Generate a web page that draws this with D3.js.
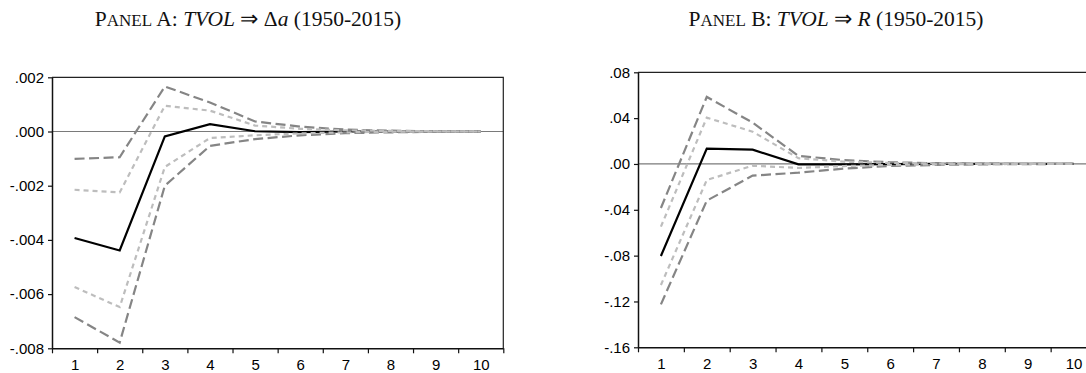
<!DOCTYPE html>
<html>
<head>
<meta charset="utf-8">
<script src="https://cdn.jsdelivr.net/npm/d3@7"></script>
<style>
  html, body { margin: 0; padding: 0; background: #fff; }
  svg { display: block; }
  .title { font-family: "Liberation Serif", "Times New Roman", serif; fill: #111; }
</style>
</head>
<body>
<svg id="chart" width="1086" height="373"></svg>
<script>
// Impulse horizons
const horizons = [1, 2, 3, 4, 5, 6, 7, 8, 9, 10];

// Panel A: response of Δa to a TVOL shock
const aPoint      = [-0.00393, -0.00439, -0.00018, 0.00027, 0.00001, -0.00002, 0, 0, 0, 0];
const aUpperOuter = [-0.00101, -0.00095, 0.00166, 0.00107, 0.00037, 0.00018, 0.00007, 0.00003, 0.00001, 0];
const aLowerOuter = [-0.00685, -0.00779, -0.00200, -0.00053, -0.00028, -0.00014, -0.00006, -0.00003, -0.00001, 0];
const aUpperInner = [-0.00215, -0.00225, 0.00095, 0.00077, 0.00022, 0.00010, 0.00004, 0.00002, 0.00001, 0];
const aLowerInner = [-0.00574, -0.00648, -0.00131, -0.00024, -0.00014, -0.00007, -0.00003, -0.00001, 0, 0];
const aYTicks = [-0.008, -0.006, -0.004, -0.002, 0, 0.002];

// Panel B: response of R to a TVOL shock
const bPoint      = [-0.0803, 0.0134, 0.0125, -0.0003, -0.0004, -0.0002, 0, 0, 0, 0];
const bUpperOuter = [-0.0384, 0.0585, 0.0361, 0.0070, 0.0033, 0.0015, 0.0007, 0.0003, 0.0001, 0];
const bLowerOuter = [-0.1225, -0.0320, -0.0102, -0.0076, -0.0040, -0.0018, -0.0008, -0.0003, -0.0001, 0];
const bUpperInner = [-0.0547, 0.0404, 0.0282, 0.0050, 0.0020, 0.0009, 0.0004, 0.0002, 0.0001, 0];
const bLowerInner = [-0.1056, -0.0140, -0.0015, -0.0035, -0.0018, -0.0008, -0.0003, -0.0001, 0, 0];
const bYTicks = [-0.16, -0.12, -0.08, -0.04, 0, 0.04, 0.08];

const svg = d3.select("#chart");
const TICK_FONT = "\"Liberation Sans\", Arial, sans-serif";
const TICK_SIZE = 15;

function stripZero(fmt) {
  const f = d3.format(fmt);
  return v => f(Math.abs(v) < 1e-12 ? 0 : v).replace("0.", ".").replace("−", "-");
}

function styleTickText(sel) {
  sel.attr("font-family", TICK_FONT).attr("font-size", TICK_SIZE);
  sel.selectAll("text").attr("fill", "#000");
}

function drawPanel(cfg) {
  const { left, right, top, bottom } = cfg.box;
  const x = d3.scaleLinear().domain([0.5, 10.5]).range([left, right]);
  const y = d3.scaleLinear().domain(cfg.yDomain).range([bottom, top]);
  const g = svg.append("g");

  // zero reference line
  g.append("line")
    .attr("x1", left).attr("x2", Math.min(right, 1086))
    .attr("y1", y(0)).attr("y2", y(0))
    .attr("stroke", "#7a7a7a").attr("stroke-width", 1.2);

  const line = d3.line().x((d, i) => x(horizons[i])).y(d => y(d));

  const series = [
    { v: cfg.point, color: "#000", dash: null, w: 2.2 },
    { v: cfg.upperOuter, color: "#858585", dash: "10,4.5", w: 2.2 },
    { v: cfg.lowerOuter, color: "#858585", dash: "10,4.5", w: 2.2 },
    { v: cfg.upperInner, color: "#bdbdbd", dash: "5,4", w: 2.2 },
    { v: cfg.lowerInner, color: "#bdbdbd", dash: "5,4", w: 2.2 }
  ];
  series.forEach(s => {
    g.append("path")
      .attr("d", line(s.v))
      .attr("fill", "none")
      .attr("stroke", s.color)
      .attr("stroke-width", s.w)
      .attr("stroke-dasharray", s.dash)
      .attr("stroke-linejoin", "miter");
  });

  // frame (top and right)
  g.append("path")
    .attr("d", `M${left},${top}H${right}V${bottom}`)
    .attr("fill", "none").attr("stroke", "#222").attr("stroke-width", 1.2);

  // y axis
  const yAxis = g.append("g").attr("transform", `translate(${left},0)`)
    .call(d3.axisLeft(y).tickValues(cfg.yTicks).tickFormat(stripZero(cfg.yFormat))
      .tickSizeInner(4).tickSizeOuter(0).tickPadding(4))
    .call(styleTickText);
  yAxis.select(".domain").attr("stroke", "#111").attr("stroke-width", 1.5);
  yAxis.selectAll(".tick line").attr("stroke", "#111").attr("stroke-width", 1.2);

  // x axis: ticks at band boundaries, labels centred in bands
  const xAxis = g.append("g").attr("transform", `translate(0,${bottom})`)
    .call(d3.axisBottom(x).tickValues(d3.range(0.5, 11, 1)).tickFormat("")
      .tickSizeInner(5).tickSizeOuter(0));
  xAxis.select(".domain").attr("stroke", "#111").attr("stroke-width", 1.5);
  xAxis.selectAll(".tick line").attr("stroke", "#111").attr("stroke-width", 1.2);

  const xLabels = g.append("g").attr("transform", `translate(0,${bottom})`)
    .call(d3.axisBottom(x).tickValues(horizons).tickFormat(d3.format("d"))
      .tickSize(0).tickPadding(11))
    .call(styleTickText);
  xLabels.select(".domain").remove();

  // title
  const t = svg.append("text").attr("class", "title")
    .attr("x", cfg.titleX).attr("y", 26).attr("text-anchor", "middle")
    .attr("font-size", 21.5);
  t.append("tspan").text("P");
  t.append("tspan").attr("font-size", 17).text("ANEL");
  t.append("tspan").text(" " + cfg.panel + ": ");
  t.append("tspan").attr("font-style", "italic").text("TVOL");
  t.append("tspan").text(" \u21D2 ");
  cfg.resp.forEach(r => t.append("tspan").attr("font-style", r.italic ? "italic" : null).text(r.s));
  t.append("tspan").text(" (1950-2015)");
}

drawPanel({
  box: { left: 52, right: 503.3, top: 77.3, bottom: 348.3 },
  yDomain: [-0.008, 0.002], yTicks: aYTicks, yFormat: ".3f",
  point: aPoint, upperOuter: aUpperOuter, lowerOuter: aLowerOuter,
  upperInner: aUpperInner, lowerInner: aLowerInner,
  titleX: 248, panel: "A", resp: [{ s: "\u0394", italic: false }, { s: "a", italic: true }]
});

drawPanel({
  box: { left: 638, right: 1096.5, top: 72.3, bottom: 347.3 },
  yDomain: [-0.16, 0.08], yTicks: bYTicks, yFormat: ".2f",
  point: bPoint, upperOuter: bUpperOuter, lowerOuter: bLowerOuter,
  upperInner: bUpperInner, lowerInner: bLowerInner,
  titleX: 836, panel: "B", resp: [{ s: "R", italic: true }]
});
</script>
</body>
</html>
